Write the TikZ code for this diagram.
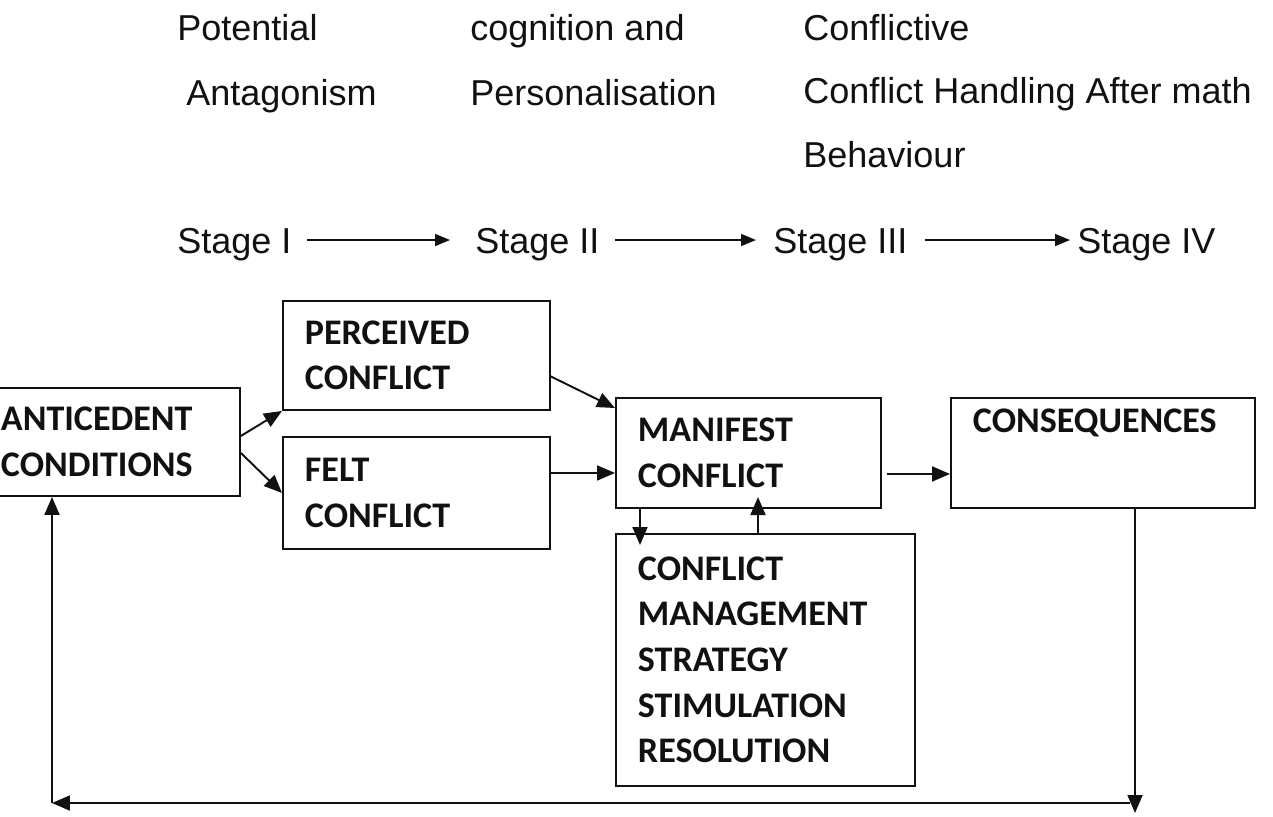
\documentclass[tikz,border=0pt]{standalone}
\usepackage{fontspec}
\setmainfont{Liberation Sans}
\newfontfamily\boxfont{Carlito}
\usetikzlibrary{positioning, arrows.meta, calc}
\definecolor{ink}{HTML}{111111}
\tikzset{
  cbox/.style={draw=ink, line width=1.1pt, anchor=north west, align=left,
               inner xsep=0.44cm, inner ysep=0pt, text=ink,
               font=\boxfont\bfseries\fontsize{20.5}{26}\selectfont},
  lbl/.style={anchor=base west, inner sep=0pt, text=ink,
              font=\fontsize{20.5}{24}\selectfont},
  arr/.style={-{Triangle[length=0.36cm, width=0.3cm]}, draw=ink, line width=1.1pt},
  stagearr/.style={-{Triangle[length=0.3cm, width=0.24cm]}, draw=ink, line width=0.9pt},
}
\begin{document}
\begin{tikzpicture}[x=0.02cm, y=-0.02cm]
  \useasboundingbox (0,0) rectangle (1273,816);
  \clip (0,0) rectangle (1273,816);
  % stage headings
  \node[lbl] (pot)  at (177,40)  {Potential};
  \node[lbl] (ant)  at (186,105) {Antagonism};
  \node[lbl] (cog)  at (470,40)  {cognition and};
  \node[lbl] (pers) at (470,105) {Personalisation};
  \node[lbl] (cfl)  at (803,40)  {Conflictive};
  \node[lbl] (hnd)  at (803,103) {Conflict Handling After math};
  \node[lbl] (beh)  at (803,167) {Behaviour};
  \node[lbl] (s1) at (177,253)  {Stage I};
  \node[lbl] (s2) at (475,253)  {Stage II};
  \node[lbl] (s3) at (773,253)  {Stage III};
  \node[lbl] (s4) at (1077,253) {Stage IV};
  \draw[stagearr] ([xshift=0.3cm,yshift=0.26cm]s1.base east) -- ([xshift=-0.5cm,yshift=0.26cm]s2.base west);
  \draw[stagearr] ([xshift=0.3cm,yshift=0.26cm]s2.base east) -- ([xshift=-0.34cm,yshift=0.26cm]s3.base west);
  \draw[stagearr] ([xshift=0.34cm,yshift=0.26cm]s3.base east) -- ([xshift=-0.14cm,yshift=0.26cm]s4.base west);
  % boxes
  \node[cbox, text width=4.34cm, minimum height=2.16cm] (ante) at (-22,387) {ANTICEDENT\\CONDITIONS};
  \node[cbox, text width=4.46cm, minimum height=2.18cm] (perc) at (282,300) {PERCEIVED\\CONFLICT};
  \node[cbox, text width=4.46cm, minimum height=2.24cm] (felt) at (282,436) {FELT\\CONFLICT};
  \node[cbox, text width=4.42cm, minimum height=2.2cm] (man) at (615,397) {MANIFEST\\CONFLICT};
  \node[cbox, text width=5.20cm, minimum height=2.2cm] (cons) at (950,397) {CONSEQUENCES\\[0.36cm]~};
  \node[cbox, text width=5.10cm, minimum height=5.04cm] (strat) at (615,533)
    {CONFLICT\\MANAGEMENT\\STRATEGY\\STIMULATION\\RESOLUTION};
  % connectors
  \draw[arr] ([yshift=0.12cm]ante.east) -- (perc.south west);
  \draw[arr] ([yshift=-0.22cm]ante.east) -- (felt.west);
  \draw[arr] ([yshift=-0.42cm]perc.east) -- ([yshift=-0.22cm]man.north west);
  \draw[arr] ([yshift=0.4cm]felt.east) -- ([yshift=0.4cm]felt.east -| man.west);
  \draw[arr] ([xshift=0.1cm,yshift=-0.42cm]man.east) -- ([yshift=-0.42cm]cons.west);
  \coordinate (dn) at (640,545);
  \coordinate (up) at (758,497);
  \draw[arr] (man.south -| dn) -- (dn);
  \draw[arr] (strat.north -| up) -- (up);
  % feedback loop
  \coordinate (fbR) at (1135,813);
  \coordinate (fbM) at (1130,803);
  \coordinate (fbL) at (52,803);
  \draw[arr] (cons.south -| fbR) -- (fbR);
  \draw[arr] (fbM) -- (fbL);
  \draw[arr] (fbL) -- (ante.south -| fbL);
\end{tikzpicture}
\end{document}
